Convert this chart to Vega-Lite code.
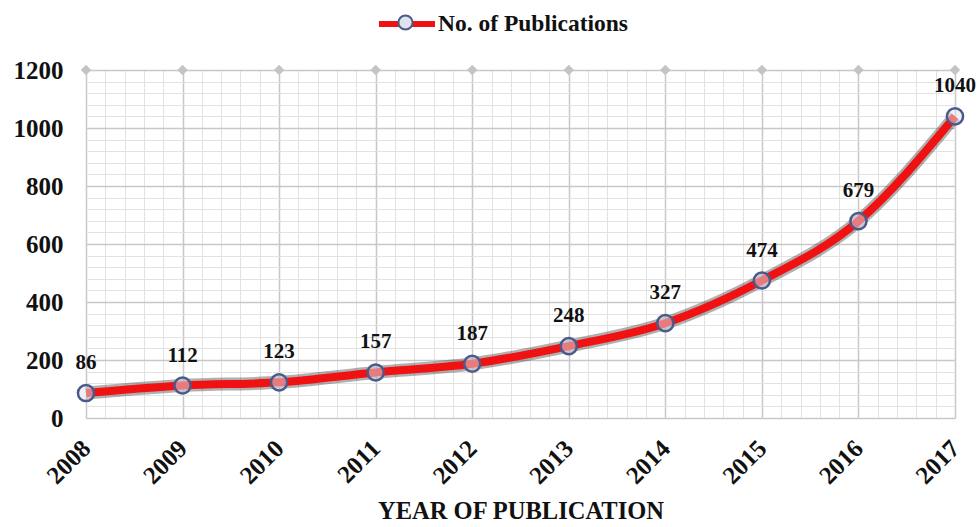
{
  "$schema": "https://vega.github.io/schema/vega-lite/v6.json",
  "width": 869,
  "height": 348,
  "autosize": {"type": "none"},
  "padding": {"left": 86, "top": 70, "right": 22, "bottom": 109},
  "background": "white",
  "config": {"view": {"stroke": null}, "font": "Liberation Serif"},
  "data": {"values": [
    {"year": 2008, "pubs": 86, "top": 1200, "series": "No. of Publications", "series2": "No. of Publications"},
    {"year": 2009, "pubs": 112, "top": 1200, "series": "No. of Publications", "series2": "No. of Publications"},
    {"year": 2010, "pubs": 123, "top": 1200, "series": "No. of Publications", "series2": "No. of Publications"},
    {"year": 2011, "pubs": 157, "top": 1200, "series": "No. of Publications", "series2": "No. of Publications"},
    {"year": 2012, "pubs": 187, "top": 1200, "series": "No. of Publications", "series2": "No. of Publications"},
    {"year": 2013, "pubs": 248, "top": 1200, "series": "No. of Publications", "series2": "No. of Publications"},
    {"year": 2014, "pubs": 327, "top": 1200, "series": "No. of Publications", "series2": "No. of Publications"},
    {"year": 2015, "pubs": 474, "top": 1200, "series": "No. of Publications", "series2": "No. of Publications"},
    {"year": 2016, "pubs": 679, "top": 1200, "series": "No. of Publications", "series2": "No. of Publications"},
    {"year": 2017, "pubs": 1040, "top": 1200, "series": "No. of Publications", "series2": "No. of Publications"}
  ]},
  "layer": [
    {
      "mark": {"type": "point", "opacity": 0},
      "encoding": {
        "x": {"field": "year", "type": "quantitative",
          "scale": {"domain": [2008, 2017], "nice": false, "zero": false},
          "axis": {"orient": "bottom", "values": [2008,2008.2,2008.4,2008.6,2008.8,2009,2009.2,2009.4,2009.6,2009.8,2010,2010.2,2010.4,2010.6,2010.8,2011,2011.2,2011.4,2011.6,2011.8,2012,2012.2,2012.4,2012.6,2012.8,2013,2013.2,2013.4,2013.6,2013.8,2014,2014.2,2014.4,2014.6,2014.8,2015,2015.2,2015.4,2015.6,2015.8,2016,2016.2,2016.4,2016.6,2016.8,2017],
            "grid": true, "gridColor": "#e2e2e2", "gridWidth": 1, "labels": false, "ticks": false, "domain": false, "title": null}},
        "y": {"field": "pubs", "type": "quantitative",
          "scale": {"domain": [0, 1200], "nice": false},
          "axis": {"orient": "left", "values": [0,40,80,120,160,200,240,280,320,360,400,440,480,520,560,600,640,680,720,760,800,840,880,920,960,1000,1040,1080,1120,1160,1200],
            "grid": true, "gridColor": "#e2e2e2", "gridWidth": 1, "labels": false, "ticks": false, "domain": false, "title": null}}
      }
    },
    {
      "mark": {"type": "point", "shape": "diamond", "filled": true, "color": "#c4c4c4", "size": 110, "opacity": 1},
      "encoding": {
        "x": {"field": "year", "type": "quantitative",
          "axis": {"orient": "bottom", "values": [2008,2009,2010,2011,2012,2013,2014,2015,2016,2017], "format": "d",
            "grid": true, "gridColor": "#c8c8c8", "gridWidth": 1.5, "ticks": false, "tickSize": 0, "domain": false,
            "labelAngle": -45, "labelAlign": "right", "labelBaseline": "middle", "labelPadding": 26,
            "labelFont": "Liberation Serif", "labelFontSize": 25, "labelFontWeight": "bold", "labelColor": "#111",
            "title": "YEAR OF PUBLICATION", "titleFont": "Liberation Serif", "titleFontSize": 24.5, "titleFontWeight": "bold",
            "titleColor": "#111", "titlePadding": 11}},
        "y": {"field": "top", "type": "quantitative",
          "axis": {"orient": "left", "values": [0,200,400,600,800,1000,1200], "format": "d",
            "grid": true, "gridColor": "#c8c8c8", "gridWidth": 1.5, "ticks": false, "tickSize": 0, "domain": false,
            "labelPadding": 23, "labelFont": "Liberation Serif", "labelFontSize": 25, "labelFontWeight": "bold", "labelColor": "#111",
            "title": null}}
      }
    },
    {
      "mark": {"type": "line", "interpolate": "monotone", "stroke": "#3a3a3a", "strokeWidth": 13, "opacity": 0.4},
      "encoding": {
        "x": {"field": "year", "type": "quantitative", "axis": null},
        "y": {"field": "pubs", "type": "quantitative", "axis": null}
      }
    },
    {
      "mark": {"type": "line", "interpolate": "monotone", "strokeWidth": 8},
      "encoding": {
        "x": {"field": "year", "type": "quantitative", "axis": null},
        "y": {"field": "pubs", "type": "quantitative", "axis": null},
        "color": {"field": "series", "type": "nominal", "scale": {"range": ["#f01212"]},
          "legend": {"orient": "none", "legendX": 290, "legendY": -77, "title": null, "padding": 0,
            "symbolType": "stroke", "symbolSize": 3136, "symbolStrokeWidth": 6, "labelLimit": 0,
            "labelFont": "Liberation Serif", "labelFontSize": 23.5, "labelFontWeight": "bold", "labelColor": "#111", "labelOffset": 0}}
      }
    },
    {
      "mark": {"type": "point", "filled": true, "fill": "#dfe3ee", "fillOpacity": 0.5, "stroke": "#4a5a8c", "strokeWidth": 2.5, "size": 260, "opacity": 1},
      "encoding": {
        "x": {"field": "year", "type": "quantitative", "axis": null},
        "y": {"field": "pubs", "type": "quantitative", "axis": null},
        "shape": {"field": "series2", "type": "nominal", "scale": {"range": ["circle"]},
          "legend": {"orient": "none", "legendX": 311, "legendY": -56, "title": null, "padding": 0,
            "symbolSize": 200, "symbolStrokeWidth": 2, "labelExpr": "''",
            "encode": {"symbols": {"update": {"stroke": {"value": "#4a5a8c"}, "fill": {"value": "#dfe3ee"}, "fillOpacity": {"value": 0.5}, "strokeWidth": {"value": 2}}}}}}
      }
    },
    {
      "mark": {"type": "text", "dy": -30, "font": "Liberation Serif", "fontSize": 21, "fontWeight": "bold", "color": "#111", "baseline": "middle"},
      "encoding": {
        "x": {"field": "year", "type": "quantitative", "axis": null},
        "y": {"field": "pubs", "type": "quantitative", "axis": null},
        "text": {"field": "pubs", "type": "quantitative"}
      }
    }
  ],
  "resolve": {"axis": {"x": "independent", "y": "independent"}}
}
